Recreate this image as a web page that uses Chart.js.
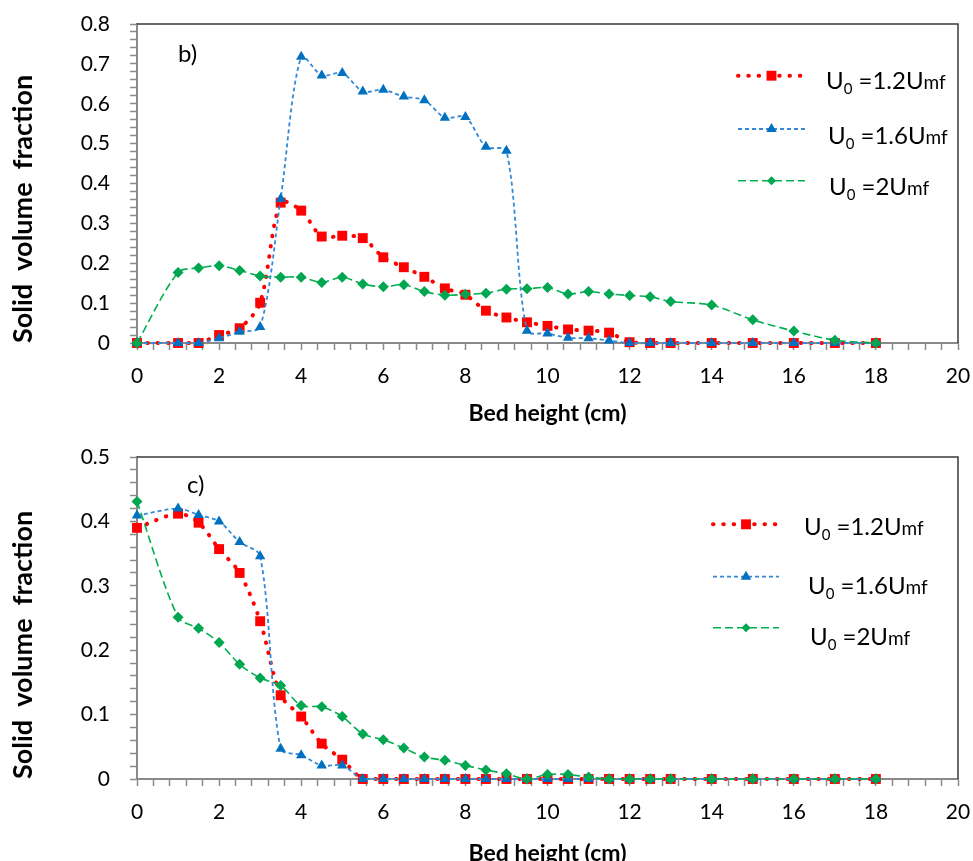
<!DOCTYPE html>
<html>
<head>
<meta charset="utf-8">
<title>Solid volume fraction vs bed height</title>
<script src="https://cdn.jsdelivr.net/npm/chart.js@4.4.1/dist/chart.umd.min.js"></script>
<style>
html, body { margin: 0; padding: 0; background: #fff; overflow: hidden; }
.box { position: absolute; left: 0; width: 973px; }
#top { top: 0; height: 430px; }
#bottom { top: 430px; height: 445px; }
</style>
</head>
<body>
<div class="box" id="top"><canvas id="chartB"></canvas></div>
<div class="box" id="bottom"><canvas id="chartC"></canvas></div>
<script>
// bed heights (cm) where the profiles were sampled
const heights = [0, 1, 1.5, 2, 2.5, 3, 3.5, 4, 4.5, 5, 5.5, 6, 6.5, 7, 7.5, 8, 8.5, 9, 9.5, 10,
  10.5, 11, 11.5, 12, 12.5, 13, 14, 15, 16, 17, 18];
const speeds = ['1.2', '1.6', '2'];

// panel b)
const b12 = [0, 0, 0, 0.02, 0.037, 0.101, 0.352, 0.332, 0.267, 0.269, 0.263, 0.215, 0.19, 0.166, 0.137, 0.121,
  0.081, 0.064, 0.052, 0.043, 0.034, 0.031, 0.026, 0.002, 0, 0, 0, 0, 0, 0, 0];
const b16 = [0, 0, 0, 0.012, 0.028, 0.04, 0.362, 0.718, 0.671, 0.677, 0.631, 0.635, 0.618, 0.609, 0.565, 0.567,
  0.492, 0.482, 0.031, 0.024, 0.013, 0.012, 0.006, 0, 0, 0, 0, 0, 0, 0, 0];
const b20 = [0, 0.177, 0.188, 0.194, 0.182, 0.168, 0.165, 0.165, 0.152, 0.165, 0.148, 0.141, 0.146, 0.129, 0.12, 0.122,
  0.125, 0.135, 0.136, 0.139, 0.123, 0.129, 0.123, 0.119, 0.116, 0.104, 0.095, 0.058, 0.03, 0.007, 0];

// panel c)
const c12 = [0.39, 0.412, 0.398, 0.357, 0.32, 0.245, 0.13, 0.097, 0.055, 0.03, 0, 0, 0, 0, 0, 0,
  0, 0, 0, 0, 0, 0, 0, 0, 0, 0, 0, 0, 0, 0, 0];
const c16 = [0.409, 0.42, 0.41, 0.4, 0.368, 0.346, 0.047, 0.037, 0.021, 0.021, 0, 0, 0, 0, 0, 0,
  0, 0, 0, 0, 0, 0, 0, 0, 0, 0, 0, 0, 0, 0, 0];
const c20 = [0.431, 0.251, 0.234, 0.212, 0.178, 0.157, 0.145, 0.114, 0.112, 0.097, 0.07, 0.061, 0.048, 0.034, 0.029, 0.021,
  0.014, 0.008, 0, 0.007, 0.007, 0.003, 0, 0, 0, 0, 0, 0, 0, 0, 0];

const xMax = 20;
const xLabelStep = 2;
const yLabelStep = 0.1;

Chart.defaults.font.family = 'Lato';
Chart.defaults.color = '#000';

const pts = vals => heights.map((h, i) => ({ x: h, y: vals[i] }));

// draw a marker the same way the datasets do
function marker(ctx, style, x, y, r, color) {
  ctx.fillStyle = color;
  ctx.beginPath();
  if (style === 'rect') {
    const s = r * Math.SQRT1_2;
    ctx.rect(x - s, y - s, 2 * s, 2 * s);
  } else if (style === 'triangle') {
    for (let k = 0; k < 3; k++) {
      const a = k * 2 * Math.PI / 3;
      const px = x + Math.sin(a) * r, py = y - Math.cos(a) * r;
      k ? ctx.lineTo(px, py) : ctx.moveTo(px, py);
    }
    ctx.closePath();
  } else {
    ctx.moveTo(x - r, y); ctx.lineTo(x, y - r); ctx.lineTo(x + r, y); ctx.lineTo(x, y + r);
    ctx.closePath();
  }
  ctx.fill();
}

// frame, panel letter and the legend with subscripts
const panelDecor = {
  id: 'panelDecor',
  beforeDatasetsDraw(chart, args, o) {
    const { ctx, chartArea: a } = chart;
    ctx.save();
    ctx.strokeStyle = '#3a3a3a';
    ctx.lineWidth = 1.5;
    ctx.beginPath();
    ctx.moveTo(a.left, a.top);
    ctx.lineTo(a.right, a.top);
    ctx.lineTo(a.right, a.bottom);
    ctx.stroke();
    ctx.fillStyle = '#000';
    ctx.font = '24px Lato';
    ctx.textBaseline = 'alphabetic';
    ctx.fillText(o.tag, o.tagX, o.tagY);
    ctx.restore();
  },
  afterDraw(chart, args, o) {
    const ctx = chart.ctx;
    chart.data.datasets.forEach((ds, i) => {
      const y = o.rows[i];
      ctx.save();
      ctx.strokeStyle = ds.borderColor;
      ctx.lineWidth = ds.borderWidth;
      ctx.lineCap = ds.borderCapStyle || 'butt';
      ctx.setLineDash(ds.borderDash);
      ctx.beginPath();
      ctx.moveTo(o.x1, y);
      ctx.lineTo(o.x2, y);
      ctx.stroke();
      ctx.setLineDash([]);
      marker(ctx, ds.pointStyle, (o.x1 + o.x2) / 2, y, o.markR[i], ds.pointBackgroundColor);

      // U0 =1.2Umf
      const base = o.textY[i] + 8.5;
      let x = o.textX[i];
      ctx.fillStyle = '#000';
      ctx.textBaseline = 'alphabetic';
      ctx.font = '24px Lato';
      ctx.fillText('U', x, base); x += ctx.measureText('U').width;
      ctx.font = '15px Lato';
      ctx.fillText('0', x, base + 5); x += ctx.measureText('0').width;
      ctx.font = '24px Lato';
      const mid = ' =' + speeds[i] + 'U';
      ctx.fillText(mid, x, base); x += ctx.measureText(mid).width;
      ctx.font = '19px Lato';
      ctx.fillText('mf', x, base);
      ctx.restore();
    });
  }
};

function series(v12, v16, v20) {
  return [
    {
      label: 'U0 =1.2Umf', data: pts(v12), order: 3,
      borderColor: '#FF0000', borderWidth: 4, borderDash: [0.5, 9.8], borderCapStyle: 'round',
      pointStyle: 'rect', pointRadius: 7, pointBackgroundColor: '#FF0000', pointBorderWidth: 0
    },
    {
      label: 'U0 =1.6Umf', data: pts(v16), order: 2,
      borderColor: '#3389D6', borderWidth: 1.8, borderDash: [4, 3],
      pointStyle: 'triangle', pointRadius: 6, pointBackgroundColor: '#0070C0', pointBorderWidth: 0
    },
    {
      label: 'U0 =2Umf', data: pts(v20), order: 1,
      borderColor: '#00B050', borderWidth: 1.6, borderDash: [8, 4],
      pointStyle: 'rectRot', pointRadius: 5.5, pointBackgroundColor: '#00A650', pointBorderWidth: 0
    }
  ];
}

function makeChart(id, data, yMax, pad, xh, decor, titlePad) {
  return new Chart(document.getElementById(id), {
    type: 'line',
    data: { datasets: data },
    plugins: [panelDecor],
    options: {
      responsive: true,
      maintainAspectRatio: false,
      animation: false,
      layout: { padding: pad },
      elements: { line: { tension: 0.3 } },
      datasets: { line: { clip: false } },
      plugins: { legend: { display: false }, tooltip: { enabled: false }, panelDecor: decor },
      scales: {
        x: {
          type: 'linear', min: 0, max: xMax,
          afterFit: s => { s.height = xh; s.paddingLeft = 0; s.paddingRight = 0; },
          ticks: {
            stepSize: 0.4, autoSkip: false, maxRotation: 0, padding: 14, font: { size: 21 },
            callback: v => {
              const r = Math.round(v / xLabelStep) * xLabelStep;
              return Math.abs(v - r) < 1e-6 ? String(r) : '';
            }
          },
          grid: { drawOnChartArea: false, tickLength: 7, tickColor: '#8a8a8a', tickWidth: 1.5 },
          border: { color: '#8a8a8a', width: 2 },
          title: { display: true, text: 'Bed height (cm)', font: { size: 23, weight: 'bold' }, padding: { top: 0, bottom: titlePad } }
        },
        y: {
          min: 0, max: yMax,
          afterFit: s => { s.width = 137; s.paddingTop = 0; s.paddingBottom = 0; },
          ticks: {
            stepSize: 0.02, autoSkip: false, padding: 20, font: { size: 21 },
            callback: v => {
              const r = Math.round(v / yLabelStep);
              return Math.abs(v / yLabelStep - r) < 1e-6 ? String(Math.round(r * yLabelStep * 10) / 10) : '';
            }
          },
          grid: { drawOnChartArea: false, tickLength: 7, tickColor: '#8a8a8a', tickWidth: 1.5 },
          border: { color: '#8a8a8a', width: 2 },
          title: { display: true, text: 'Solid  volume  fraction', align: 'start', font: { size: 27, weight: 'bold' }, padding: { top: 7 } }
        }
      }
    }
  });
}

makeChart('chartB', series(b12, b16, b20), 0.8, { top: 24, right: 15, left: 0, bottom: 0 }, 87,
  { tag: 'b)', tagX: 178, tagY: 62, x1: 738, x2: 805, rows: [75.7, 129, 180.7], textX: [826, 828, 829],
    textY: [80.5, 135, 186.7], markR: [7, 6, 4.5] }, 3);

makeChart('chartC', series(c12, c16, c20), 0.5, { top: 27, right: 15, left: 0, bottom: 0 }, 96,
  { tag: 'c)', tagX: 187, tagY: 63, x1: 713, x2: 779, rows: [94.3, 146.7, 197.7], textX: [804, 808, 810],
    textY: [96.5, 155, 206.5], markR: [7, 6, 4.5] }, 8);
</script>
</body>
</html>
